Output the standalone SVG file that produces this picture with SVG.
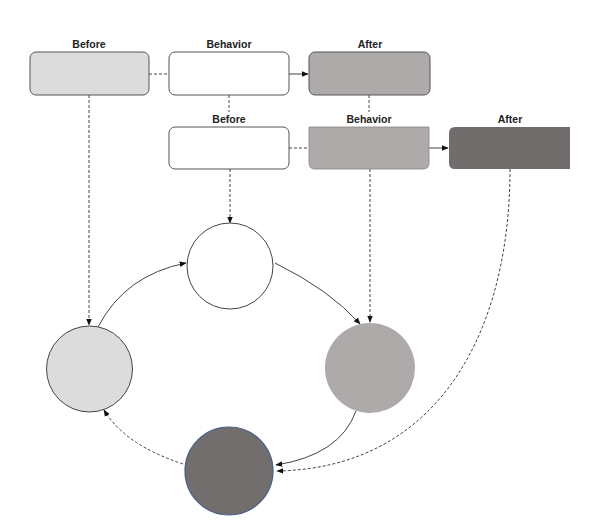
<svg xmlns="http://www.w3.org/2000/svg" width="610" height="527" viewBox="0 0 610 527">
<defs>
<style>
.lbl{font-family:"Liberation Sans",Arial,sans-serif;font-weight:bold;font-size:10.5px;fill:#222;text-anchor:middle}
.box{stroke:#555;stroke-width:1}
.dash{fill:none;stroke:#444;stroke-width:1;stroke-dasharray:3,2}
.solid{fill:none;stroke:#444;stroke-width:1}
</style>
<marker id="ah" viewBox="0 0 10 10" refX="9" refY="5" markerWidth="7" markerHeight="7" orient="auto" markerUnits="userSpaceOnUse">
<path d="M0,1 L10,5 L0,9 Z" fill="#111"/>
</marker>
</defs>
<rect width="610" height="527" fill="#fff"/>
<g id="connectors">
<line class="dash" x1="149" y1="74" x2="169" y2="74"/>
<line class="solid" x1="289" y1="74" x2="308" y2="74" marker-end="url(#ah)"/>
<line class="dash" x1="229" y1="95" x2="229" y2="112"/>
<line class="dash" x1="369" y1="95" x2="369" y2="112"/>
<line class="dash" x1="289" y1="148" x2="309" y2="148"/>
<line class="solid" x1="429" y1="148" x2="448" y2="148" marker-end="url(#ah)"/>
<line class="dash" x1="89" y1="95" x2="89" y2="325" marker-end="url(#ah)"/>
<line class="dash" x1="230" y1="169" x2="230" y2="223" marker-end="url(#ah)"/>
<line class="dash" x1="370" y1="169" x2="370" y2="322" marker-end="url(#ah)"/>
<path class="dash" d="M510,169 C510,330 440,468 277,471" marker-end="url(#ah)"/>
<path class="solid" d="M98,327 Q125,275 186,263" marker-end="url(#ah)"/>
<path class="solid" d="M275,263 Q330,290 360,324" marker-end="url(#ah)"/>
<path class="solid" d="M356,411 Q340,455 276,465" marker-end="url(#ah)"/>
<path class="dash" d="M183,464 Q125,445 104,410" marker-end="url(#ah)"/>
</g>
<g id="before1"><text class="lbl" x="89" y="48">Before</text><rect class="box" x="30" y="52" width="119" height="43" rx="6" fill="#dcdcdc"/></g>
<g id="behavior1"><text class="lbl" x="229" y="48">Behavior</text><rect class="box" x="169" y="52" width="120" height="43" rx="6" fill="#fff"/></g>
<g id="after1"><text class="lbl" x="370" y="48">After</text><rect class="box" x="309" y="52" width="121" height="43" rx="6" fill="#aeaaa9"/></g>
<g id="before2"><text class="lbl" x="229" y="123">Before</text><rect class="box" x="169" y="127" width="120" height="42" rx="6" fill="#fff"/></g>
<g id="behavior2"><text class="lbl" x="369" y="123">Behavior</text><path d="M309,127 H429 V163 Q429,169 423,169 H315 Q309,169 309,163 Z" fill="#aeaaa9" stroke="#8a8686" stroke-width="0.8"/></g>
<g id="after2"><text class="lbl" x="510" y="123">After</text><path d="M455,127 H570 V169 H455 Q449,169 449,163 V133 Q449,127 455,127 Z" fill="#726d6d"/></g>
<g id="circle-top"><circle cx="230" cy="266" r="43" fill="#fff" stroke="#444" stroke-width="1"/></g>
<g id="circle-left"><circle cx="89.5" cy="369" r="43" fill="#dcdcdc" stroke="#444" stroke-width="1"/></g>
<g id="circle-right"><circle cx="370" cy="368" r="45" fill="#aeaaaa"/></g>
<g id="circle-bottom"><circle cx="229" cy="471" r="44" fill="#726e6e" stroke="#4a5f8a" stroke-width="1.2"/></g>
</svg>
